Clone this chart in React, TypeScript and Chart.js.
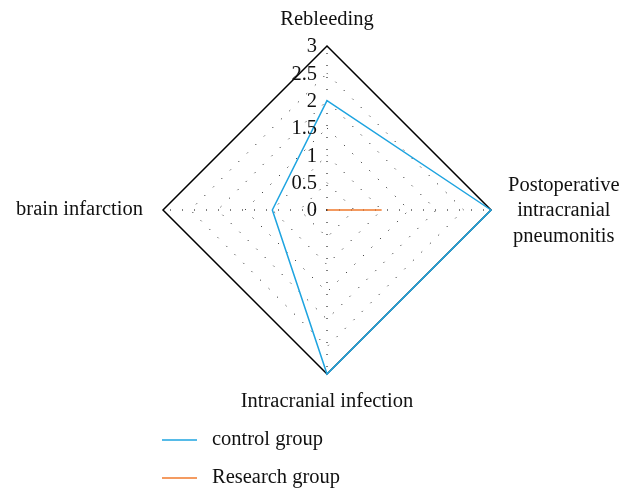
import React, { useEffect, useRef } from "react";
import { Chart, registerables } from "chart.js";

Chart.register(...registerables);

const categories: (string | string[])[] = [
  "Rebleeding",
  ["Postoperative", "intracranial", "pneumonitis"],
  "Intracranial infection",
  "brain infarction",
];
const controlGroup = [2, 3, 3, 1];
const researchGroup = [0, 1, 0, 0];
const tickValues = [0, 0.5, 1, 1.5, 2, 2.5, 3];
const tickLabels = ["0", "0.5", "1", "1.5", "2", "2.5", "3"];
const seriesNames = ["control group", "Research group"];
const seriesColors = ["#1ea4e0", "#f07a2c"];

const FONT = '"Liberation Serif", "Times New Roman", serif';
const FS = 20.5;

const labelPlugin = {
  id: "customLabels",
  afterDraw(chart: any) {
    const ctx = chart.ctx;
    const scale = chart.scales.r;
    ctx.save();
    ctx.fillStyle = "#111";
    ctx.font = `${FS}px ${FONT}`;
    // tick labels
    ctx.textAlign = "right";
    ctx.textBaseline = "middle";
    tickValues.forEach((v, i) => {
      const d = scale.getDistanceFromCenterForValue(v);
      ctx.fillText(tickLabels[i], scale.xCenter - 10, scale.yCenter - d + 1);
    });
    // point labels
    categories.forEach((lab, i) => {
      const p = scale.getPointPositionForValue(i, scale.max);
      const lines = Array.isArray(lab) ? lab : [lab];
      const lh = 25.5;
      const dx = p.x - scale.xCenter;
      const dy = p.y - scale.yCenter;
      ctx.textBaseline = "middle";
      if (Math.abs(dx) < 1) {
        ctx.textAlign = "center";
        const y = dy < 0 ? p.y - 26 : p.y + 28;
        lines.forEach((l, k) => ctx.fillText(l, p.x, y + (k - (lines.length - 1) / 2) * lh));
      } else if (dx > 0) {
        const w = Math.max(...lines.map((l) => ctx.measureText(l).width));
        ctx.textAlign = "center";
        const cx = p.x + 17 + w / 2;
        lines.forEach((l, k) => ctx.fillText(l, cx, p.y + 1 + (k - (lines.length - 1) / 2) * lh));
      } else {
        ctx.textAlign = "right";
        lines.forEach((l, k) => ctx.fillText(l, p.x - 20, p.y + (k - (lines.length - 1) / 2) * lh));
      }
    });
    // legend
    ctx.textAlign = "left";
    ctx.textBaseline = "middle";
    chart.data.datasets.forEach((ds: any, i: number) => {
      const y = 440 + i * 38;
      ctx.strokeStyle = ds.borderColor;
      ctx.lineWidth = 1.5;
      ctx.beginPath();
      ctx.moveTo(162, y);
      ctx.lineTo(197, y);
      ctx.stroke();
      ctx.fillStyle = "#111";
      ctx.fillText(ds.label, 212, y);
    });
    ctx.restore();
  },
};

export default function App() {
  const ref = useRef<HTMLCanvasElement>(null);
  useEffect(() => {
    document.body.style.margin = "0";
    const chart = new Chart(ref.current!, {
      type: "radar",
      data: {
        labels: categories as any,
        datasets: [
          {
            label: seriesNames[0],
            data: controlGroup,
            borderColor: seriesColors[0],
            backgroundColor: "transparent",
            borderWidth: 1.5,
            pointRadius: 0,
            fill: false,
          },
          {
            label: seriesNames[1],
            data: researchGroup,
            borderColor: seriesColors[1],
            backgroundColor: "transparent",
            borderWidth: 1.5,
            pointRadius: 0,
            fill: false,
          },
        ],
      },
      options: {
        responsive: false,
        animation: false,
        layout: { padding: { left: 163, right: 131, top: 46, bottom: 116 } },
        plugins: { legend: { display: false }, tooltip: { enabled: false } },
        scales: {
          r: {
            min: 0,
            max: 3,
            ticks: { stepSize: 0.5, display: false },
            pointLabels: { display: false },
            angleLines: { color: "#000", lineWidth: 1, borderDash: [1, 11] },
            grid: {
              color: "#000",
              lineWidth: (c: any) => (c.tick && c.tick.value === 3 ? 1.5 : 1),
            },
            border: {
              dash: (c: any) => (c.tick && c.tick.value === 3 ? [] : [1, 11]),
            },
          } as any,
        },
      },
      plugins: [labelPlugin],
    });
    return () => chart.destroy();
  }, []);
  return (
    <div style={{ position: "absolute", left: 0, top: 0, width: 622, height: 490 }}>
      <canvas ref={ref} width={622} height={490} />
    </div>
  );
}
